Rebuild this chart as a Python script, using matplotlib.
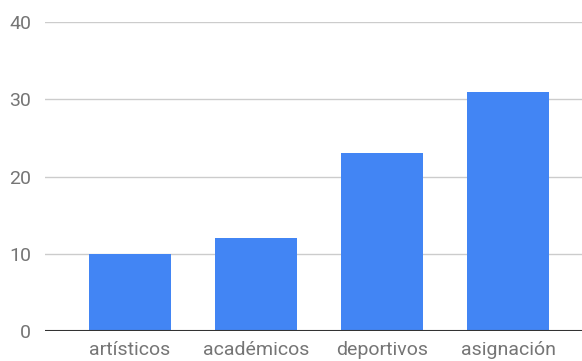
import matplotlib.pyplot as plt

categories = ['artísticos', 'académicos', 'deportivos', 'asignación']
values = [10, 12, 23, 31]
yticks = [0, 10, 20, 30, 40]

plt.rcParams['font.family'] = ['Roboto', 'DejaVu Sans']

W, H = 582, 361
fig = plt.figure(figsize=(W / 100, H / 100), dpi=100)
ax = fig.add_axes([45 / W, 30 / H, 1 - 45 / W, 309 / H])

x = range(len(categories))
ax.bar(x, values, width=0.65, color='#4285f4', zorder=3)

ax.set_xlim(-0.675, 3.587)
ax.set_ylim(0, 40)
ax.set_yticks(yticks)
ax.set_xticks(list(x))
ax.set_xticklabels(categories)

ax.grid(axis='y', color='#cccccc', linewidth=1, zorder=0)
ax.axhline(0, color='#333333', linewidth=1.5, zorder=4)
for s in ax.spines.values():
    s.set_visible(False)
ax.tick_params(length=0, labelsize=14, labelcolor='#757575')
ax.tick_params(axis='y', pad=10)
ax.tick_params(axis='x', pad=7)

fig.savefig('out.png', dpi=100)
